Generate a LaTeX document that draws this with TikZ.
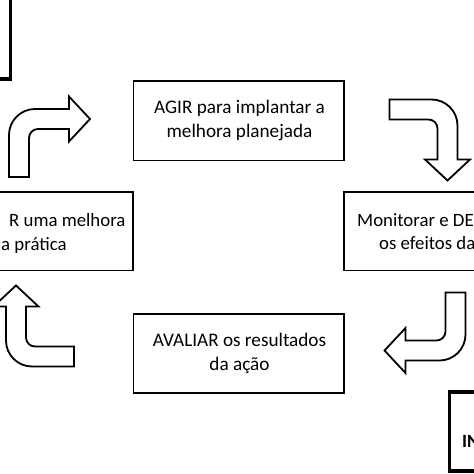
\documentclass[tikz,border=0pt]{standalone}
\usepackage{fontspec}
\setmainfont{Carlito}
\begin{document}
\begin{tikzpicture}[x=1pt,y=-1pt,
  box/.style={draw=black,line width=1.8pt,fill=white},
  thickbox/.style={draw=black,line width=3.8pt,fill=white},
  txt/.style={inner sep=0pt,align=center,font=\fontsize{19.2}{24.5}\selectfont},
  ltxt/.style={inner sep=0pt,anchor=base west,font=\fontsize{18.8}{24.5}\selectfont},
  barrow/.style={draw=black,line width=1.8pt,fill=white,line join=miter}]
\useasboundingbox (0,0) rectangle (474,474);
\fill[white] (0,0) rectangle (474,474);
\clip (0,0) rectangle (474,474);
% boxes
\draw[thickbox] (-20,-20) rectangle (10.5,79);
\draw[box] (133.5,81) rectangle (344,160.5);
\draw[box] (-30,192) rectangle (133,270.5);
\draw[box] (344,192) rectangle (500,270.5);
\draw[box] (133.5,314) rectangle (344,393);
\draw[thickbox] (449.5,392) rectangle (500,471);
% texts
\node[txt] (agir) at (239.5,120.5) {AGIR para implantar a\\melhora planejada};
\node[txt] (aval) at (239.5,353.5) {AVALIAR os resultados\\da ação};
\node[ltxt] (l1) at (9,226) {R uma melhora};
\node[ltxt] (l2) at (1,250) {a prática};
\node[ltxt] (m1) at (357,226) {Monitorar e DE};
\node[ltxt] (m2) at (379,249) {os efeitos da};
\node[ltxt,font=\fontsize{18.8}{24.5}\selectfont\bfseries] (ini) at (462,447) {IN};
% bent block arrows
\def\bentarrow{(-10,58) -- (-10,16) .. controls (-10,1.64) and (1.64,-10) .. (16,-10) -- (50,-10) -- (50,-22.5) -- (71,0) -- (50,22.5) -- (50,10) -- (19,10) .. controls (14.03,10) and (10,14.03) .. (10,19) -- (10,58) -- cycle}
\begin{scope}[shift={(19,119)}]
  \draw[barrow] \bentarrow;
\end{scope}
\begin{scope}[shift={(447.5,109.5)},rotate=-90]
  \draw[barrow] \bentarrow;
\end{scope}
\begin{scope}[shift={(455.5,350.5)},rotate=180]
  \draw[barrow] \bentarrow;
\end{scope}
\begin{scope}[shift={(16,356.5)},rotate=90]
  \draw[barrow] \bentarrow;
\end{scope}
\end{tikzpicture}
\end{document}
